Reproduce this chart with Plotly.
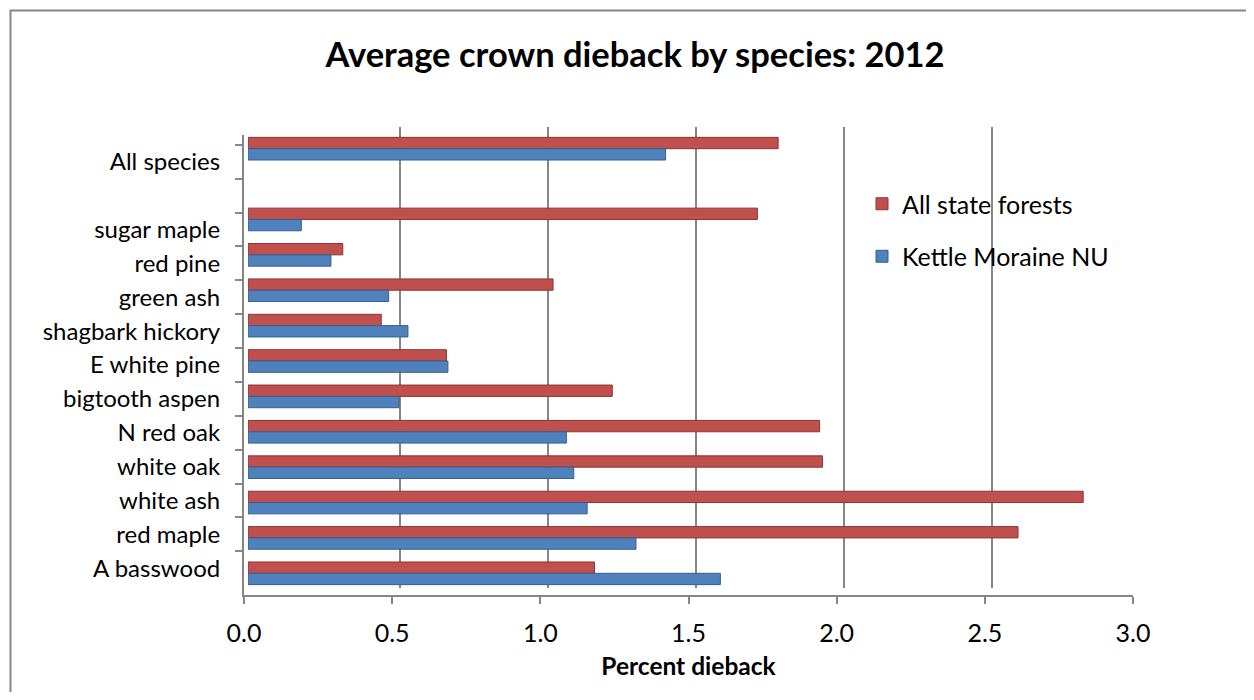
import plotly.graph_objects as go

W, H = 1254, 700
OFF = 8  # the page body margin shifts the figure by 8px; compensate
FW, FH = W - 2 * OFF, H - 2 * OFF  # figure size that fits the window without scrolling

categories = ["All species", " ", "sugar maple", "red pine", "green ash", "shagbark hickory",
              "E white pine", "bigtooth aspen", "N red oak", "white oak", "white ash",
              "red maple", "A basswood"]
all_state_forests = [1.79, None, 1.72, 0.32, 1.03, 0.45, 0.67, 1.23, 1.93, 1.94, 2.82, 2.60, 1.17]
kettle_moraine = [1.41, None, 0.18, 0.28, 0.475, 0.54, 0.675, 0.51, 1.075, 1.10, 1.145, 1.31, 1.595]
x_ticks = [0.0, 0.5, 1.0, 1.5, 2.0, 2.5, 3.0]
x_tick_labels = ["0.0", "0.5", "1.0", "1.5", "2.0", "2.5", "3.0"]

FONT = "Lato"
GRID = "#868686"


def fx(p):
    return (p - OFF) / FW


def fy(p):
    return 1 - (p - OFF) / FH


def px_x(a, b):
    return [fx(a), fx(b)]


def px_y(top, bottom):
    return [fy(bottom), fy(top)]


fig = go.Figure()

# subplot 1: back wall gridlines (invisible helper trace)
fig.add_trace(go.Scatter(x=[0, 3], y=[0, 1], xaxis="x", yaxis="y", mode="markers",
                         marker=dict(opacity=0), showlegend=False, hoverinfo="skip"))
# subplot 2: front axes with labels (invisible helper trace)
fig.add_trace(go.Scatter(x=[0] * len(categories), y=categories, xaxis="x2", yaxis="y2",
                         mode="markers", marker=dict(opacity=0), showlegend=False,
                         hoverinfo="skip"))
# subplot 3: bars
fig.add_trace(go.Bar(name="All state forests", y=categories, x=all_state_forests,
                     orientation="h", xaxis="x3", yaxis="y3", legendgroup="a",
                     marker=dict(color="#C0504D", line=dict(color="#8E3432", width=1))))
fig.add_trace(go.Bar(name="Kettle Moraine NU", y=categories, x=kettle_moraine,
                     orientation="h", xaxis="x3", yaxis="y3", legendgroup="b",
                     marker=dict(color="#4F81BD", line=dict(color="#36608F", width=1))))

border_path = "M {l},{b} L {l},{t} L {r},{t}".format(
    l=fx(10.5), b=fy(H + 20), t=fy(10.5), r=fx(W + 20))

fig.update_layout(
    width=FW, height=FH,
    margin=dict(l=0, r=0, t=0, b=0, autoexpand=False),
    paper_bgcolor="white",
    plot_bgcolor="rgba(0,0,0,0)",
    font=dict(family=FONT, color="black", size=24),
    barmode="group",
    bargap=0.36,
    bargroupgap=0.0,
    title=dict(text="<b>Average crown dieback by species: 2012</b>",
               x=fx(635), xanchor="center", y=fy(55), yanchor="middle",
               font=dict(family=FONT, size=34.5, color="black")),
    xaxis=dict(domain=px_x(252, 1140), range=[0, 3], tickvals=x_ticks, automargin=False,
               showgrid=True, gridcolor=GRID, gridwidth=2, showticklabels=False,
               zeroline=False, showline=False, ticks=""),
    yaxis=dict(domain=px_y(127, 588), range=[0, 1], showgrid=False, automargin=False,
               showticklabels=False, zeroline=False, showline=False),
    xaxis2=dict(domain=px_x(244, 1133), range=[0, 3], anchor="y2", automargin=False,
                tickvals=x_ticks, ticktext=x_tick_labels,
                showgrid=False, zeroline=False, showline=True, linecolor=GRID,
                linewidth=2, ticks="outside", ticklen=7, tickwidth=2, tickcolor=GRID,
                ticklabelstandoff=8,
                tickfont=dict(size=25),
                title=dict(text="<b>Percent dieback</b>", standoff=12,
                           font=dict(size=24.5))),
    yaxis2=dict(domain=px_y(135, 595), anchor="x2", type="category", automargin=False,
                categoryorder="array", categoryarray=categories, autorange="reversed",
                showgrid=False, zeroline=False, showline=True, linecolor=GRID,
                linewidth=2, ticks="outside", ticklen=7, tickwidth=2, tickcolor=GRID,
                tickson="boundaries", ticklabelstandoff=17, tickfont=dict(size=24)),
    xaxis3=dict(domain=px_x(248, 1136.5), range=[0, 3], anchor="y3", automargin=False,
                showgrid=False, zeroline=False, showline=False,
                showticklabels=False, ticks=""),
    yaxis3=dict(domain=px_y(131, 591), anchor="x3", type="category", automargin=False,
                categoryorder="array", categoryarray=categories, autorange="reversed",
                showgrid=False, zeroline=False, showline=False,
                showticklabels=False, ticks=""),
    legend=dict(x=fx(862), xanchor="left", y=fy(181), yanchor="top",
                traceorder="grouped", tracegroupgap=17,
                font=dict(size=25), bgcolor="rgba(0,0,0,0)"),
    shapes=[dict(type="path", xref="paper", yref="paper", path=border_path,
                 line=dict(color=GRID, width=2), layer="below")],
)

fig.write_html("out.html")
